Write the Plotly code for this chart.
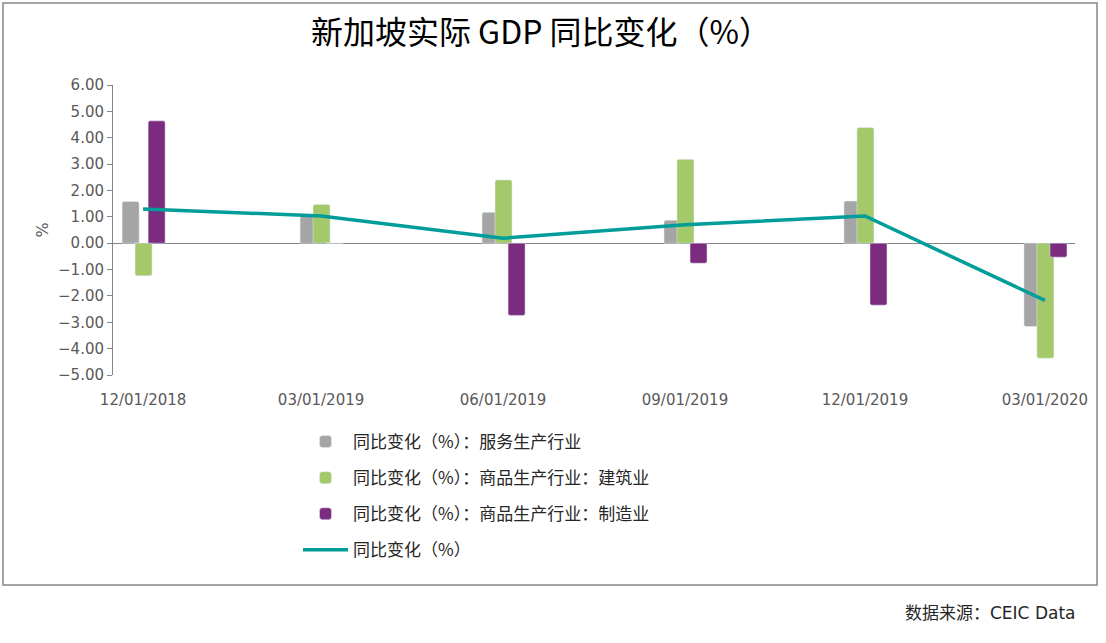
import plotly.graph_objects as go

dates = ["2018-12-01", "2019-03-01", "2019-06-01", "2019-09-01", "2019-12-01", "2020-03-01"]
date_labels = ["12/01/2018", "03/01/2019", "06/01/2019", "09/01/2019", "12/01/2019", "03/01/2020"]

services = [1.58, 1.03, 1.17, 0.87, 1.60, -3.16]
construction = [-1.24, 1.47, 2.40, 3.18, 4.39, -4.36]
manufacturing = [4.64, 0.0, -2.74, -0.76, -2.35, -0.53]
gdp_total = [1.30, 1.03, 0.19, 0.70, 1.03, -2.17]

names = [
    "同比变化（%）：服务生产行业",
    "同比变化（%）：商品生产行业：建筑业",
    "同比变化（%）：商品生产行业：制造业",
    "同比变化（%）",
]

DAY = 86400000
bar_w = 8.6 * DAY

fig = go.Figure()
fig.add_trace(go.Bar(x=dates, y=services, name=names[0], legendgroup="g1",
                     marker=dict(color="#A5A5A5", cornerradius=2),
                     width=bar_w, offset=-10.6 * DAY))
fig.add_trace(go.Bar(x=dates, y=construction, name=names[1], legendgroup="g2",
                     marker=dict(color="#A4C96A", cornerradius=2),
                     width=bar_w, offset=-4.05 * DAY))
fig.add_trace(go.Bar(x=dates, y=manufacturing, name=names[2], legendgroup="g3",
                     marker=dict(color="#7B2C7F", cornerradius=2),
                     width=bar_w, offset=2.55 * DAY))
fig.add_trace(go.Scatter(x=dates, y=gdp_total, name=names[3], legendgroup="g4", mode="lines",
                         line=dict(color="#009D99", width=3.5)))

W, H = 1106, 643
L, R, T, B = 113, 31, 85, 268
pw, ph = W - L - R, H - T - B

def px(x):
    return (x - L) / pw

def py(y):
    return (H - B - y) / ph

fig.update_layout(
    width=W, height=H,
    margin=dict(l=L, r=R, t=T, b=B, pad=0),
    paper_bgcolor="white", plot_bgcolor="white",
    barmode="overlay",
    font=dict(family="DejaVu Sans, Noto Sans CJK SC", color="#595959", size=15),
    title=dict(text="新加坡实际 GDP 同比变化（%）", x=541 / W, xanchor="center", xref="container",
               y=1 - 33 / H, yanchor="middle", yref="container",
               font=dict(family="Noto Sans CJK SC", size=32, color="#000000")),
    showlegend=True,
    legend=dict(orientation="v", x=px(298), y=py(424), xanchor="left", yanchor="top",
                font=dict(family="Noto Sans CJK SC", size=17, color="#262626"),
                traceorder="grouped", tracegroupgap=11, itemwidth=45,
                bgcolor="rgba(0,0,0,0)"),
    xaxis=dict(type="date", range=["2018-11-15 19:00", "2020-03-16 05:00"],
               tickvals=dates, ticktext=date_labels, showline=False, showgrid=False,
               zeroline=False, ticks="", ticklabelstandoff=14,
               tickfont=dict(family="DejaVu Sans", size=15, color="#595959")),
    yaxis=dict(range=[-5, 6], dtick=1, tick0=0, tickformat=".2f", showgrid=False,
               showline=True, linecolor="#868686", linewidth=1,
               ticks="outside", ticklen=5, tickcolor="#868686",
               zeroline=True, zerolinecolor="#868686", zerolinewidth=1,
               tickfont=dict(family="DejaVu Sans", size=15, color="#595959"),
               title=dict(text="%", font=dict(family="DejaVu Sans", size=16, color="#595959"), standoff=5)),
    shapes=[dict(type="rect", xref="paper", yref="paper",
                 x0=px(3), x1=px(1097), y0=py(585), y1=py(3),
                 line=dict(color="#868686", width=1.5), fillcolor="rgba(0,0,0,0)", layer="below")],
    annotations=[dict(text="数据来源：CEIC Data", xref="paper", yref="paper",
                      x=px(1078), y=py(613), xanchor="right", yanchor="middle", showarrow=False,
                      font=dict(family="DejaVu Sans, Noto Sans CJK SC", size=17, color="#262626"))],
)

fig.write_html("out.html", config={"displayModeBar": False},
               post_script="document.body.style.margin='0';document.body.style.padding='0';")
